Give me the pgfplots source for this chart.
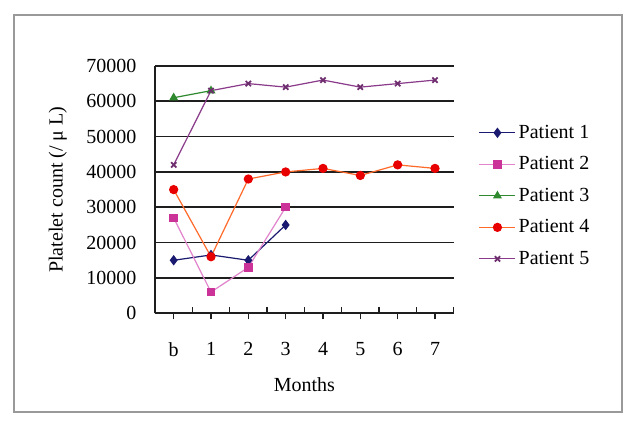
\documentclass[border=0pt]{standalone}
\usepackage{fontspec}
\setmainfont{Liberation Serif}
\usepackage{pgfplots}
\pgfplotsset{compat=1.18}

\definecolor{pone}{HTML}{1A1A70}
\definecolor{ptwoline}{HTML}{E284CC}
\definecolor{ptwo}{HTML}{CC3399}
\definecolor{pthree}{HTML}{2F8A2F}
\definecolor{pfourline}{HTML}{FF6A2A}
\definecolor{pfour}{HTML}{E80000}
\definecolor{pfive}{HTML}{8A3A8A}
\definecolor{gridc}{HTML}{1E1E1E}

\begin{document}
\begin{tikzpicture}
% page area and the outer frame (1px = 0.75pt)
\fill[white] (0pt,0pt) rectangle (481.5pt,321.75pt);
\draw[color=black!40, line width=1pt] (10.5pt,12.75pt) rectangle (466.5pt,310.5pt);

\begin{axis}[
    name=ax,
    at={(116.25pt,86.8pt)}, anchor=south west,
    scale only axis,
    width=224pt, height=185.5pt,
    font=\fontsize{15}{18}\selectfont,
    /pgf/number format/assume math mode=true,
    axis x line=bottom, axis y line=left,
    axis line style={-, line width=1.2pt, color=gridc},
    xmin=-0.5, xmax=7.5,
    ymin=0, ymax=70000,
    xtick={0,...,7},
    xticklabels={b,1,2,3,4,5,6,7},
    tick align=outside,
    major tick length=4.5pt,
    x tick style={line width=1pt, color=gridc},
    ytick={0,10000,...,70000},
    y tick style={draw=none},
    scaled y ticks=false,
    yticklabel style={/pgf/number format/fixed, /pgf/number format/1000 sep={}, xshift=-6pt},
    xticklabel style={yshift=-14pt},
    ymajorgrids=true,
    grid style={line width=1.2pt, color=gridc},
    xlabel={Months},
    xlabel style={at={(axis description cs:0.5,-0.29)}, anchor=center},
    ylabel={Platelet count (/ μ L)},
    ylabel style={at={(axis description cs:-0.325,0.5)}, anchor=center},
    legend style={at={(axis description cs:1.07,0.783)}, anchor=north west,
        draw=none, fill=none, row sep=8.2pt, font=\fontsize{15}{18}\selectfont,
        cells={anchor=west}},
    legend image code/.code={\draw[mark repeat=2,mark phase=2] plot coordinates {(0pt,0pt) (13.5pt,0pt) (27pt,0pt)};},
    clip=false,
]

\addplot[color=pone, line width=0.9pt, mark=diamond*, mark size=3.2pt, mark options={fill=pone, draw=pone}]
    coordinates {(0,15000)(1,16500)(2,15000)(3,25000)};
\addlegendentry{Patient 1}

\addplot[color=ptwoline, line width=0.9pt, mark=square*, mark size=2.7pt, mark options={fill=ptwo, draw=ptwo}]
    coordinates {(0,27000)(1,6000)(2,13000)(3,30000)};
\addlegendentry{Patient 2}

\addplot[color=pthree, line width=0.9pt, mark=triangle*, mark size=3pt, mark options={fill=pthree, draw=pthree}]
    coordinates {(0,61000)(1,63000)};
\addlegendentry{Patient 3}

\addplot[color=pfourline, line width=0.9pt, mark=*, mark size=3pt, mark options={fill=pfour, draw=pfour}]
    coordinates {(0,35000)(1,16000)(2,38000)(3,40000)(4,41000)(5,39000)(6,42000)(7,41000)};
\addlegendentry{Patient 4}

\addplot[color=pfive, line width=0.9pt, mark=x, mark size=2.8pt, mark options={draw=pfive!80!black, line width=1.3pt}]
    coordinates {(0,42000)(1,63000)(2,65000)(3,64000)(4,66000)(5,64000)(6,65000)(7,66000)};
\addlegendentry{Patient 5}

\end{axis}

% category divider ticks on the x axis, pointing up into the plot (28pt per category)
\foreach \k in {0,...,8}
    \draw[line width=1.2pt, color=gridc] ([xshift=\k*28pt]ax.south west) -- ++(0pt,5pt);
\end{tikzpicture}
\end{document}
